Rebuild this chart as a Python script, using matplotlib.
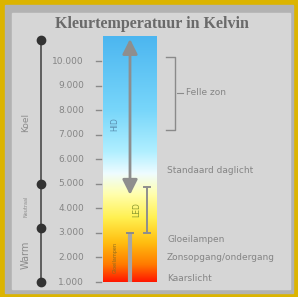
import numpy as np
import matplotlib
matplotlib.use("Agg")
import matplotlib.pyplot as plt
from matplotlib.colors import LinearSegmentedColormap
from matplotlib.patches import Rectangle

# --- data -------------------------------------------------------------
title = "Kleurtemperatuur in Kelvin"
kelvin_ticks = [1000, 2000, 3000, 4000, 5000, 6000, 7000, 8000, 9000, 10000]
tick_labels = ["1.000", "2.000", "3.000", "4.000", "5.000",
               "6.000", "7.000", "8.000", "9.000", "10.000"]

# zones on the left scale
zone_names = ["Warm", "Neutraal", "Koel"]
zone_edges = [1000, 3200, 5000, 10850]

# light sources (low, high)
hid_range = (4550, 10900)
led_range = (3000, 4850)
gloei_range = (1000, 3000)

# annotations on the right
felle_zon = (7200, 10150)
right_labels = ["Standaard daglicht", "Gloeilampen", "Zonsopgang/ondergang", "Kaarslicht"]
right_label_k = [5550, 2750, 2000, 1150]

# colour bar gradient stops (kelvin, colour)
grad_k = [1000, 1700, 2600, 3600, 4600, 5400, 6300, 8000, 11000]
grad_c = ["#ff1800", "#ff7a00", "#ffbe10", "#fff050", "#ffffb0",
          "#effcff", "#b0efff", "#78d6fa", "#4cb6f0"]

# --- figure -----------------------------------------------------------
fig = plt.figure(figsize=(2.98, 2.97), dpi=100)
fig.patch.set_facecolor("#dcb400")
fig.patches.append(Rectangle((5 / 298, 4 / 297), 288 / 298, 288 / 297,
                             transform=fig.transFigure, color="#b2b2b2", zorder=-2))
fig.patches.append(Rectangle((12 / 298, 8 / 297), 278 / 298, 276 / 297,
                             transform=fig.transFigure, color="#d6d6d6", zorder=-1))

ax = fig.add_axes([0, 0, 1, 1])
ax.set_zorder(2)
ax.axis("off")
ax.patch.set_alpha(0)

txt = "#858585"

# title
ax.text(152, 11520, title, ha="center", va="center", fontsize=11.5,
        family="Liberation Serif", weight="bold", color="#6a6a6a")

# colour bar
k_min, k_max = grad_k[0], grad_k[-1]
cmap = LinearSegmentedColormap.from_list(
    "kelvin", [((k - k_min) / (k_max - k_min), c) for k, c in zip(grad_k, grad_c)])
grad = np.linspace(k_min, k_max, 256).reshape(-1, 1)
ax.imshow(grad, cmap=cmap, aspect="auto", origin="lower",
          extent=(103, 157, k_min, k_max), zorder=1)
ax.set_xlim(0, 298)
ax.set_ylim(389, 12487)

# ticks and labels
for k, lab in zip(kelvin_ticks, tick_labels):
    ax.plot([96, 101], [k, k], color="#8a8a8a", lw=1.0)
    ax.text(84, k, lab, ha="right", va="center", fontsize=6.5, color=txt)

# left scale with zones
ax.plot([41, 41], [zone_edges[0], zone_edges[-1]], color="#555555", lw=1.3, zorder=2)
ax.plot([41] * len(zone_edges), zone_edges, "o", color="#333333", ms=6, zorder=3)
zone_sizes = [7, 3.5, 6.5]
for i, (name, fs) in enumerate(zip(zone_names, zone_sizes)):
    mid = (zone_edges[i] + zone_edges[i + 1]) / 2
    if name == "Koel":
        mid = 7500
    ax.text(26, mid, name, rotation=90, ha="center", va="center",
            fontsize=fs, color="#8c8c8c")

# HID arrow
ax.annotate("", xy=(130, hid_range[0]), xytext=(130, hid_range[1]),
            arrowprops=dict(arrowstyle="<|-|>,head_length=0.9,head_width=0.45",
                            color="#8e8e8e", lw=2.0, shrinkA=0, shrinkB=0), zorder=4)
ax.text(115, 7450, "HID", rotation=90, ha="center", va="center",
        fontsize=5.5, color="#5a8fb0")

# LED I-beam
ax.plot([147, 147], led_range, color="#8e8e8e", lw=1.4, zorder=4)
ax.plot([144, 150], [led_range[0]] * 2, color="#8e8e8e", lw=1.4, zorder=4)
ax.plot([144, 150], [led_range[1]] * 2, color="#8e8e8e", lw=1.4, zorder=4)
ax.text(137, 3950, "LED", rotation=90, ha="center", va="center",
        fontsize=5.5, color="#8c9a30")

# Gloeilampen bar
ax.plot([130, 130], gloei_range, color="#a6a6a6", lw=3.0, zorder=4,
        solid_capstyle="butt")
ax.plot([127, 133], [gloei_range[1]] * 2, color="#8a8a8a", lw=1.4, zorder=4)
ax.text(115, 2000, "Gloeilampen", rotation=90, ha="center", va="center",
        fontsize=3.5, color="#8a6a20")

# Felle zon bracket
ax.plot([166, 175, 175, 166], [felle_zon[1], felle_zon[1], felle_zon[0], felle_zon[0]],
        color="#8a8a8a", lw=1.0)
ax.plot([177, 183], [8700, 8700], color="#8a8a8a", lw=0.8)
ax.text(186, 8700, "Felle zon", ha="left", va="center", fontsize=6.5, color=txt)

for lab, k in zip(right_labels, right_label_k):
    ax.text(167, k, lab, ha="left", va="center", fontsize=6.5, color=txt)

fig.savefig("out.png", dpi=100, facecolor=fig.get_facecolor())
